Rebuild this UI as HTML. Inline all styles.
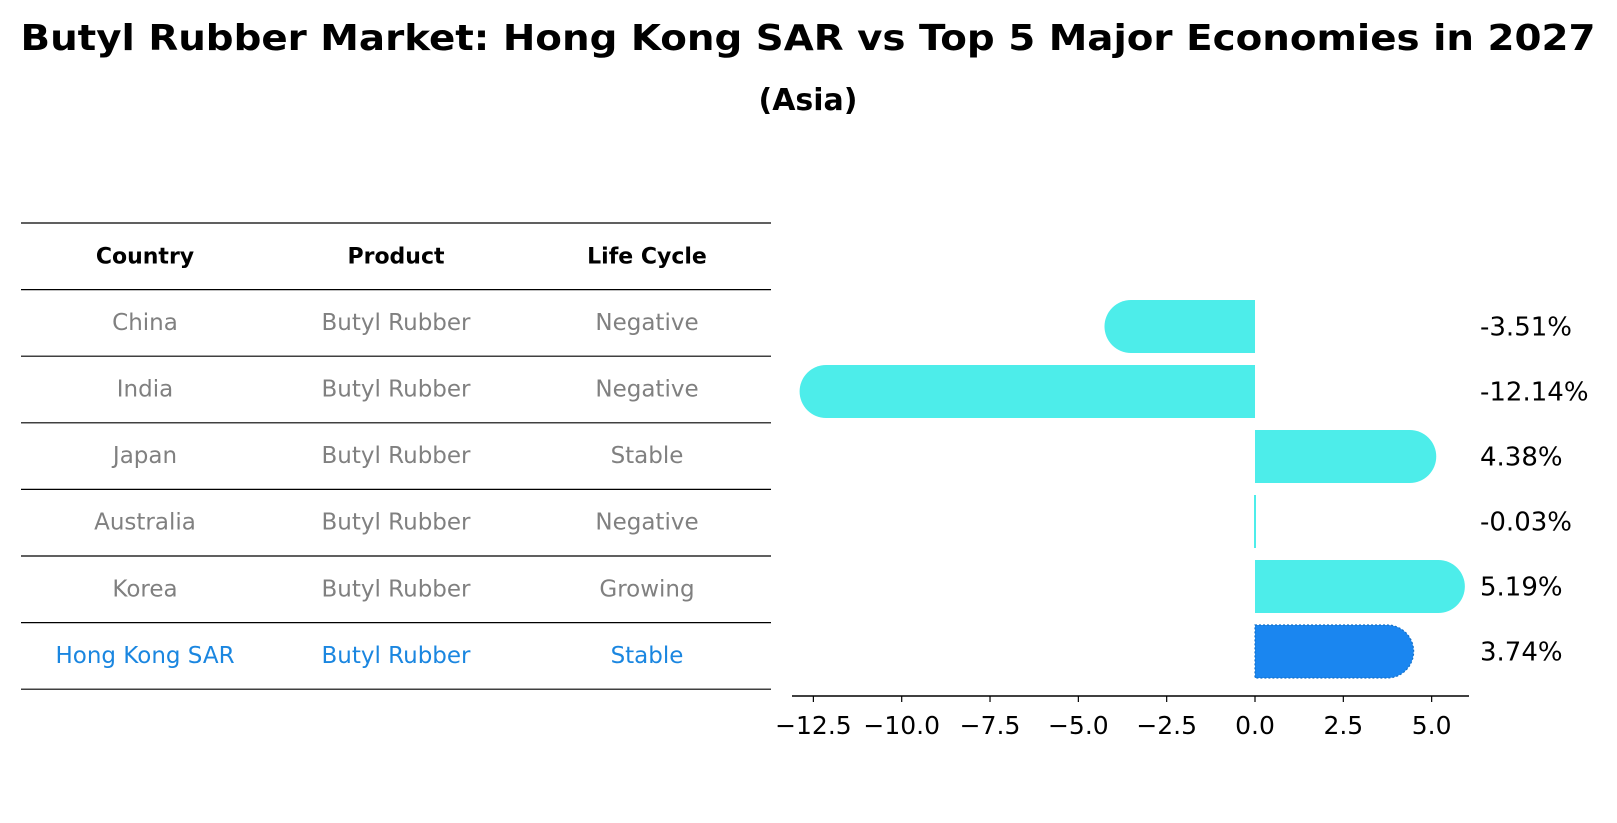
<!DOCTYPE html>
<html><head><meta charset="utf-8"><style>
body{margin:0;background:#fff}
svg{display:block;font-family:"DejaVu Sans","Liberation Sans",sans-serif}
</style></head><body>
<svg id="chart" width="1617" height="823" viewBox="0 0 1617 823">
<text x="808" y="50" text-anchor="middle" font-size="36" font-weight="bold" textLength="1575" lengthAdjust="spacingAndGlyphs">Butyl Rubber Market: Hong Kong SAR vs Top 5 Major Economies in 2027</text>
<text x="808" y="110" text-anchor="middle" font-size="30" font-weight="bold">(Asia)</text>
<g id="table"></g>
<g id="bars"></g>
</svg>
<script>
const countries = ["China","India","Japan","Australia","Korea","Hong Kong SAR"];
const products = ["Butyl Rubber","Butyl Rubber","Butyl Rubber","Butyl Rubber","Butyl Rubber","Butyl Rubber"];
const lifeCycles = ["Negative","Negative","Stable","Negative","Growing","Stable"];
const growthValues = [-3.51,-12.14,4.38,-0.03,5.19,3.74];
const valueLabels = ["-3.51%","-12.14%","4.38%","-0.03%","5.19%","3.74%"];
const xTicks = [-12.5,-10,-7.5,-5,-2.5,0,2.5,5];
const xTickLabels = ["\u221212.5","\u221210.0","\u22127.5","\u22125.0","\u22122.5","0.0","2.5","5.0"];

const NS="http://www.w3.org/2000/svg";
function mk(tag,attrs,parent,txt){const e=document.createElementNS(NS,tag);for(const k in attrs)e.setAttribute(k,attrs[k]);if(txt!==undefined)e.textContent=txt;parent.appendChild(e);return e;}

const tg=document.getElementById('table');
const tLeft=21,tRight=771,top0=223,rowH=66.6;
const colX=[145,396,647];
for(let i=0;i<=countries.length+1;i++){
  const y=top0+i*rowH;
  const l=mk('line',{x1:tLeft,x2:tRight,y1:y,y2:y,stroke:'#000','stroke-width':1.2},tg);
  
  
}
const headers=["Country","Product","Life Cycle"];
headers.forEach((h,j)=>{
  const t=mk('text',{x:colX[j],y:top0+rowH/2+7,'text-anchor':'middle','font-size':22,'font-weight':'bold'},tg,h);
  
  
});
countries.forEach((c,i)=>{
  const y=top0+(i+1)*rowH+rowH/2+7;
  const col=i===countries.length-1?'#1A86E0':'#808080';
  [c,products[i],lifeCycles[i]].forEach((v,j)=>{
    const t=mk('text',{x:colX[j],y:y,'text-anchor':'middle','font-size':23,fill:col},tg,v);
    
    
  });
});

const bg=document.getElementById('bars');
const x0px=1255,unit=35.33;
const xs=v=>x0px+v*unit;
const barTop=300,barStep=65,barH=53;
const yc=i=>barTop+barH/2+i*barStep;
growthValues.forEach((v,i)=>{
  const c=yc(i),r=barH/2,x0=xs(0),x1=xs(v);
  const hk=i===growthValues.length-1;
  const fill=hk?'#1A86F0':'#4DEDEA';
  let d;
  if(Math.abs(v)<0.1){
    d=`M${x0-1},${c-r}H${x0+1}V${c+r}H${x0-1}Z`;
  } else {
    const s=v>0?1:0;
    d=`M${x0},${c-r}H${x1}A${r},${r} 0 0 ${s} ${x1},${c+r}H${x0}Z`;
  }
  const p=mk('path',{d:d,fill:fill},bg);
  if(hk){p.setAttribute('stroke','#1570C8');p.setAttribute('stroke-dasharray','2,2');p.setAttribute('stroke-width','1.2');}
  
  
  const t=mk('text',{x:1480,y:c+9,'font-size':26},bg,valueLabels[i]);
  
  
});
const axY=696;
const ax=mk('line',{x1:792,x2:1469,y1:axY,y2:axY,stroke:'#000','stroke-width':1.5},bg);


xTicks.forEach((v,i)=>{
  const tk=mk('line',{x1:xs(v),x2:xs(v),y1:axY,y2:axY+6,stroke:'#000','stroke-width':1.2},bg);
  
  
  const t=mk('text',{x:xs(v),y:axY+38,'text-anchor':'middle','font-size':25},bg,xTickLabels[i]);
  
  
});
</script>
</body></html>
